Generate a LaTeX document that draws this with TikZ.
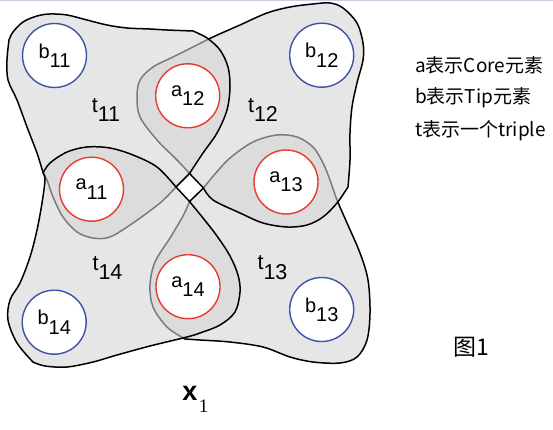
\documentclass[tikz,border=0pt]{standalone}
\usepackage{fontspec}
\setmainfont{Liberation Sans}
\newfontfamily\cjk{Noto Sans CJK SC}
\newfontfamily\serifx{Liberation Serif}
\definecolor{corered}{HTML}{E63B2E}
\definecolor{tipblue}{HTML}{3F51A8}
\definecolor{topline}{HTML}{C4CFDF}
\newcommand\sublbl[2]{#1\raisebox{-0.46em}{#2}}
\tikzset{
  triple/.style={draw=black, line width=1.5pt, fill=black!17, fill opacity=0.58, line join=round},
  elem/.style={circle, fill=white, minimum size=64pt, inner sep=0pt, line width=1.4pt, font=\fontsize{20}{20}\selectfont},
  core/.style={elem, draw=corered},
  tip/.style={elem, draw=tipblue},
  tlabel/.style={inner sep=0pt, font=\fontsize{21.5}{21.5}\selectfont},
  legend/.style={inner sep=0pt, anchor=west, font=\cjk\fontsize{19}{19}\selectfont},
}
\begin{document}
\begin{tikzpicture}[x=1pt, y=-1pt]
\useasboundingbox (0,0) rectangle (553,430);
\draw[topline, line width=1pt] (0,0.5) -- (553,0.5);
% centre square corners
\coordinate (T) at (189.5,173.5);
\coordinate (R) at (203.5,188);
\coordinate (B) at (189.5,201.5);
\coordinate (L) at (176,187);
% t13
\draw[triple] (R) -- plot[smooth, tension=0.55] coordinates {(203.5,188) (215,174) (230,158) (253,142) (277,135) (297,137) (313,147) (323,163) (330,180) (337,200) (347,223) (360,253) (368,280) (370,313) (367,340) (357,357) (340,363) (313,362) (290,357) (263,347) (230,342) (200,340) (185,339)}
  -- plot[smooth, tension=0.55] coordinates {(185,339) (167,327) (153,307) (150,285) (155,262) (170,238) (183,216) (189.5,201.5)} -- (B) -- cycle;
% t12
\draw[triple] (T) -- plot[smooth, tension=0.55] coordinates {(189.5,173.5) (177,160) (157,140) (140,117) (137,97) (140,80) (153,67) (173,57) (193,47) (213,37) (240,25) (267,13) (290,7) (313,4) (330,3) (343,8) (357,23) (363,43) (363,60) (357,83) (352,107) (350,133) (350,160) (348,187)}
  -- plot[smooth, tension=0.55] coordinates {(348,187) (337,203) (323,217) (307,225) (287,227) (263,223) (240,213) (213,200) (203.5,188)} -- (R) -- cycle;
% t11
\draw[triple] (T) -- plot[smooth, tension=0.55] coordinates {(189.5,173.5) (203,153) (217,133) (227,110) (230,87) (228,67) (220,50) (207,38) (193,31)}
  -- plot[smooth, tension=0.55] coordinates {(193,31) (167,30) (150,29) (127,28) (107,25) (87,20) (67,15) (50,14) (37,16) (23,22) (13,32) (9,40)}
  -- plot[smooth, tension=0.55] coordinates {(9,40) (7,60) (8,80) (17,100) (27,127) (37,153) (43,172) (47,180) (53,197) (63,217) (77,232) (93,238) (110,237) (133,223) (160,203) (176,187)} -- (L) -- cycle;
% t14
\draw[triple] (B) -- plot[smooth, tension=0.55] coordinates {(189.5,201.5) (203,218) (217,236) (230,256) (238,275) (240,292) (235,312) (220,325) (200,333) (187,337) (150,346) (117,355) (93,362) (67,367) (45,366) (33,362)}
  -- plot[smooth, tension=0.55] coordinates {(33,362) (17,343) (8,320) (10,300) (20,283) (30,257) (37,230) (42,203) (45,180) (43,173)}
  -- plot[smooth, tension=0.55] coordinates {(43,173) (50,163) (67,152) (87,147) (110,148) (133,155) (157,167) (176,187)} -- (L) -- cycle;
% elements
\node[tip]  (b11) at (54.5,55.5)  {\sublbl{b}{11}};
\node[tip]  (b12) at (321.7,55.2) {\sublbl{b}{12}};
\node[tip]  (b13) at (321.7,309.5){\sublbl{b}{13}};
\node[tip]  (b14) at (54.2,322.2) {\sublbl{b}{14}};
\node[core] (a11) at (91.5,189.2) {\sublbl{a}{11}};
\node[core] (a12) at (187.7,95.8) {\sublbl{a}{12}};
\node[core] (a13) at (286,182)    {\sublbl{a}{13}};
\node[core] (a14) at (188,286.7)  {\sublbl{a}{14}};
% triple labels
\node[tlabel] (t11) at (106,110)    {\sublbl{t}{11}};
\node[tlabel] (t12) at (263,110)    {\sublbl{t}{12}};
\node[tlabel] (t13) at (272.5,267.5){\sublbl{t}{13}};
\node[tlabel] (t14) at (107.5,268)  {\sublbl{t}{14}};
% legend
\node[legend] (l1) at (415,65)  {a表示Core元素};
\node[legend] (l2) at (415,98)  {b表示Tip元素};
\node[legend] (l3) at (415,131) {t表示一个triple};
\node[inner sep=0pt, font=\cjk\fontsize{23}{23}\selectfont] (fig) at (471,347) {图1};
% x_1
\node[inner sep=0pt, font=\bfseries\fontsize{27}{27}\selectfont] (x) at (190,393) {x};
\node[inner sep=0pt, font=\serifx\fontsize{19}{19}\selectfont] (x1) at (203.5,406) {1};
\end{tikzpicture}
\end{document}
